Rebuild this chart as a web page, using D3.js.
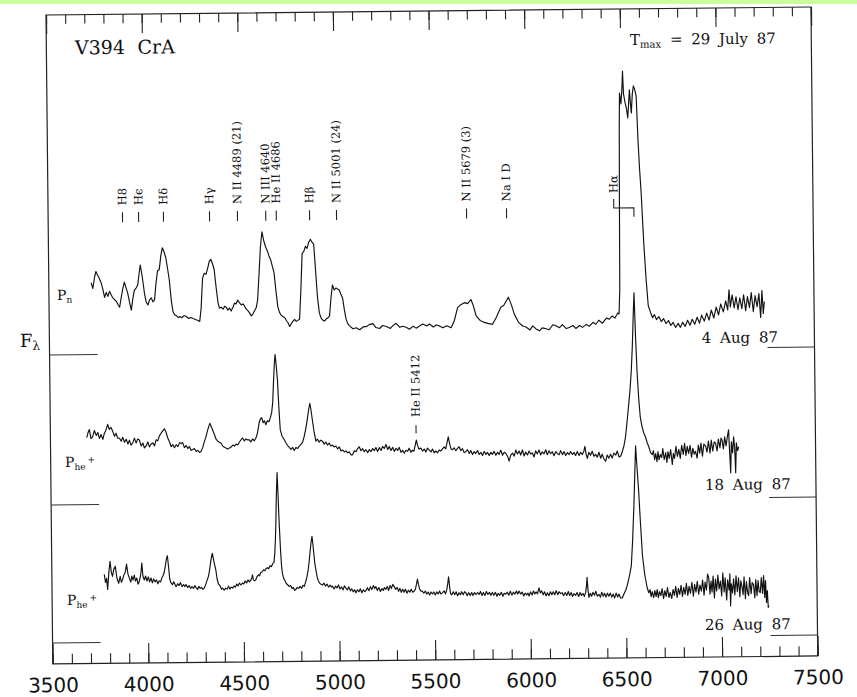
<!DOCTYPE html>
<html>
<head>
<meta charset="utf-8">
<script src="https://cdn.jsdelivr.net/npm/d3@7"></script>
<style>
  body { margin: 0; background: #fff; }
  svg text { fill: #111; }
</style>
</head>
<body>
<div id="vis"></div>
<script>
// Constants
const FRAME_WIDTH = 857;
const FRAME_HEIGHT = 697;
// the scanned plot box is tilted a little
const PLOT = { left: 46, top: 15, width: 765, height: 649, tilt: -0.6 };

// wavelength axis (Angstrom)
const waveDomain = [3500, 7500];
const waveTicks = [3500, 4000, 4500, 5000, 5500, 6000, 6500, 7000, 7500];

// spectra: [wavelength, flux above its own zero level]
const dates = ["4 Aug 87", "18 Aug 87", "26 Aug 87"];
const phases = ["n", "he", "he"];
const offsets = [3.09, 1.59, 0.21];

const aug04 = [[3721,0.72],[3730,0.66],[3740,0.78],[3747,0.83],[3754,0.80],[3762,0.77],[3773,0.72],[3781,0.66],[3791,0.57],[3800,0.62],[3808,0.58],[3817,0.63],[3824,0.60],[3832,0.57],[3842,0.55],[3852,0.53],[3860,0.50],[3869,0.47],[3878,0.57],[3887,0.66],[3895,0.72],[3904,0.66],[3912,0.61],[3921,0.52],[3930,0.44],[3938,0.55],[3947,0.64],[3956,0.66],[3965,0.69],[3972,0.80],[3979,0.89],[3985,0.82],[3991,0.74],[4000,0.60],[4008,0.52],[4017,0.49],[4026,0.54],[4035,0.56],[4043,0.52],[4052,0.54],[4060,0.70],[4069,0.83],[4078,0.84],[4087,0.98],[4095,1.06],[4104,1.02],[4113,0.96],[4121,0.86],[4130,0.74],[4140,0.52],[4148,0.42],[4156,0.39],[4166,0.38],[4175,0.36],[4182,0.37],[4195,0.36],[4205,0.38],[4217,0.37],[4230,0.35],[4240,0.36],[4252,0.35],[4265,0.34],[4278,0.33],[4287,0.32],[4295,0.45],[4304,0.75],[4313,0.80],[4322,0.79],[4330,0.84],[4340,0.92],[4348,0.94],[4356,0.90],[4365,0.84],[4375,0.65],[4384,0.50],[4391,0.45],[4400,0.46],[4410,0.44],[4418,0.47],[4426,0.46],[4435,0.43],[4443,0.45],[4452,0.42],[4462,0.46],[4470,0.50],[4478,0.49],[4487,0.53],[4496,0.50],[4505,0.48],[4514,0.49],[4522,0.47],[4530,0.44],[4540,0.42],[4548,0.40],[4557,0.37],[4566,0.39],[4574,0.42],[4583,0.45],[4591,0.53],[4600,0.80],[4608,1.05],[4617,1.21],[4626,1.12],[4635,1.06],[4644,1.02],[4652,0.97],[4661,0.93],[4670,0.86],[4678,0.80],[4687,0.62],[4696,0.46],[4705,0.40],[4714,0.37],[4722,0.36],[4731,0.35],[4740,0.32],[4748,0.30],[4757,0.26],[4766,0.29],[4774,0.31],[4783,0.33],[4792,0.31],[4800,0.32],[4809,0.33],[4817,0.60],[4826,0.99],[4835,1.01],[4844,1.06],[4852,1.04],[4861,1.10],[4870,1.13],[4878,1.10],[4887,1.08],[4896,0.80],[4904,0.55],[4913,0.39],[4922,0.34],[4930,0.32],[4939,0.31],[4948,0.33],[4956,0.34],[4966,0.36],[4975,0.55],[4983,0.67],[4992,0.62],[5001,0.64],[5009,0.63],[5018,0.62],[5026,0.58],[5035,0.54],[5044,0.42],[5052,0.33],[5061,0.28],[5070,0.26],[5088,0.23],[5105,0.24],[5123,0.22],[5143,0.25],[5157,0.25],[5173,0.27],[5192,0.28],[5208,0.24],[5227,0.23],[5243,0.26],[5262,0.25],[5283,0.23],[5298,0.26],[5314,0.28],[5333,0.24],[5348,0.25],[5366,0.24],[5383,0.22],[5403,0.25],[5418,0.23],[5436,0.25],[5453,0.27],[5473,0.25],[5488,0.27],[5508,0.24],[5523,0.26],[5540,0.25],[5558,0.23],[5578,0.25],[5601,0.23],[5618,0.30],[5636,0.43],[5653,0.46],[5671,0.48],[5688,0.47],[5706,0.51],[5718,0.45],[5732,0.35],[5753,0.30],[5775,0.28],[5793,0.27],[5818,0.26],[5838,0.33],[5862,0.43],[5878,0.45],[5893,0.50],[5902,0.53],[5918,0.45],[5932,0.36],[5953,0.28],[5975,0.24],[5993,0.23],[6013,0.20],[6028,0.24],[6045,0.21],[6063,0.19],[6078,0.22],[6098,0.21],[6114,0.20],[6133,0.25],[6149,0.24],[6168,0.22],[6183,0.25],[6203,0.21],[6219,0.22],[6238,0.24],[6253,0.21],[6273,0.24],[6288,0.22],[6308,0.25],[6323,0.23],[6343,0.27],[6358,0.25],[6373,0.29],[6393,0.26],[6413,0.31],[6428,0.30],[6443,0.33],[6458,0.31],[6473,0.36],[6480,0.35],[6485,0.60],[6488,1.50],[6491,2.20],[6494,2.56],[6501,2.45],[6507,2.60],[6511,2.78],[6515,2.55],[6523,2.46],[6530,2.40],[6536,2.31],[6541,2.45],[6546,2.59],[6551,2.45],[6555,2.36],[6561,2.55],[6567,2.63],[6573,2.60],[6581,2.53],[6588,2.10],[6595,1.80],[6602,1.56],[6613,1.05],[6623,0.70],[6633,0.43],[6645,0.36],[6655,0.31],[6665,0.34],[6675,0.29],[6688,0.32],[6700,0.27],[6712,0.30],[6725,0.25],[6738,0.28],[6750,0.23],[6762,0.26],[6775,0.21],[6788,0.25],[6800,0.21],[6812,0.26],[6825,0.22],[6838,0.28],[6850,0.23],[6862,0.29],[6875,0.24],[6888,0.31],[6900,0.25],[6912,0.33],[6925,0.27],[6938,0.35],[6950,0.28],[6962,0.38],[6975,0.30],[6988,0.41],[7000,0.33],[7012,0.44],[7025,0.36],[7038,0.47],[7048,0.38],[7056,0.58],[7062,0.41],[7072,0.53],[7082,0.40],[7092,0.51],[7102,0.38],[7112,0.50],[7122,0.39],[7132,0.53],[7142,0.37],[7152,0.51],[7162,0.40],[7172,0.55],[7182,0.36],[7192,0.52],[7202,0.41],[7212,0.54],[7220,0.30],[7228,0.57],[7234,0.34],[7240,0.46]];

const aug18 = [[3690,0.67],[3697,0.72],[3704,0.75],[3712,0.66],[3721,0.68],[3730,0.74],[3740,0.69],[3748,0.72],[3756,0.66],[3765,0.70],[3774,0.65],[3782,0.71],[3790,0.74],[3800,0.80],[3808,0.75],[3817,0.77],[3826,0.73],[3835,0.68],[3843,0.71],[3852,0.66],[3861,0.66],[3870,0.63],[3878,0.67],[3887,0.62],[3896,0.65],[3905,0.60],[3913,0.64],[3921,0.59],[3930,0.61],[3939,0.66],[3948,0.61],[3956,0.65],[3965,0.64],[3974,0.58],[3983,0.61],[3991,0.56],[4000,0.58],[4009,0.62],[4017,0.57],[4026,0.60],[4035,0.61],[4044,0.58],[4052,0.64],[4061,0.63],[4070,0.68],[4080,0.71],[4088,0.73],[4096,0.75],[4104,0.72],[4113,0.66],[4122,0.62],[4131,0.57],[4140,0.59],[4148,0.56],[4157,0.59],[4166,0.57],[4175,0.61],[4183,0.60],[4191,0.61],[4200,0.56],[4209,0.58],[4218,0.55],[4226,0.57],[4235,0.53],[4244,0.54],[4252,0.55],[4261,0.52],[4270,0.53],[4279,0.51],[4287,0.52],[4296,0.56],[4305,0.62],[4314,0.67],[4322,0.73],[4334,0.80],[4345,0.75],[4357,0.69],[4366,0.64],[4375,0.62],[4383,0.61],[4392,0.60],[4401,0.57],[4410,0.56],[4418,0.55],[4427,0.54],[4435,0.55],[4444,0.56],[4453,0.58],[4462,0.57],[4470,0.59],[4479,0.58],[4488,0.61],[4496,0.63],[4505,0.65],[4514,0.62],[4522,0.64],[4531,0.63],[4540,0.63],[4548,0.61],[4557,0.64],[4566,0.62],[4575,0.65],[4583,0.70],[4592,0.80],[4599,0.84],[4606,0.85],[4613,0.80],[4620,0.82],[4627,0.78],[4635,0.82],[4644,0.81],[4651,0.85],[4658,0.90],[4664,1.00],[4670,1.23],[4675,1.40],[4679,1.48],[4684,1.38],[4690,1.23],[4696,0.95],[4702,0.73],[4712,0.66],[4722,0.63],[4730,0.60],[4740,0.57],[4748,0.55],[4757,0.53],[4766,0.55],[4774,0.52],[4783,0.55],[4792,0.54],[4800,0.56],[4809,0.58],[4818,0.60],[4827,0.66],[4836,0.74],[4844,0.83],[4851,0.92],[4858,0.99],[4864,0.92],[4870,0.83],[4879,0.70],[4888,0.61],[4896,0.63],[4905,0.60],[4913,0.62],[4922,0.61],[4931,0.58],[4940,0.60],[4948,0.57],[4957,0.59],[4966,0.56],[4975,0.57],[4983,0.55],[4992,0.56],[5001,0.53],[5010,0.55],[5018,0.51],[5027,0.52],[5036,0.50],[5044,0.51],[5053,0.49],[5062,0.50],[5070,0.47],[5079,0.47],[5088,0.51],[5097,0.50],[5105,0.53],[5114,0.55],[5123,0.51],[5132,0.53],[5140,0.50],[5149,0.52],[5158,0.49],[5166,0.52],[5175,0.50],[5184,0.53],[5193,0.51],[5201,0.54],[5210,0.50],[5219,0.54],[5228,0.51],[5236,0.55],[5245,0.53],[5254,0.57],[5263,0.52],[5271,0.55],[5280,0.51],[5289,0.54],[5297,0.50],[5306,0.53],[5315,0.51],[5323,0.54],[5332,0.49],[5341,0.51],[5349,0.48],[5358,0.51],[5367,0.50],[5375,0.53],[5384,0.49],[5392,0.51],[5400,0.50],[5407,0.56],[5413,0.61],[5419,0.56],[5426,0.52],[5436,0.53],[5445,0.50],[5454,0.52],[5462,0.49],[5471,0.53],[5480,0.51],[5489,0.49],[5497,0.52],[5506,0.48],[5514,0.50],[5523,0.48],[5532,0.51],[5541,0.50],[5549,0.52],[5558,0.54],[5566,0.52],[5573,0.58],[5580,0.64],[5587,0.57],[5594,0.52],[5601,0.51],[5610,0.53],[5619,0.50],[5627,0.52],[5636,0.54],[5645,0.50],[5654,0.52],[5662,0.48],[5671,0.49],[5680,0.51],[5689,0.47],[5697,0.50],[5706,0.46],[5715,0.49],[5723,0.47],[5732,0.50],[5741,0.46],[5750,0.48],[5758,0.45],[5767,0.49],[5776,0.46],[5784,0.48],[5793,0.45],[5802,0.48],[5810,0.46],[5819,0.49],[5828,0.45],[5837,0.48],[5845,0.46],[5854,0.50],[5863,0.45],[5872,0.48],[5880,0.47],[5889,0.44],[5897,0.39],[5906,0.45],[5915,0.47],[5924,0.44],[5932,0.50],[5941,0.46],[5950,0.49],[5958,0.45],[5967,0.50],[5976,0.44],[5984,0.48],[5993,0.45],[6002,0.49],[6010,0.46],[6019,0.47],[6028,0.43],[6036,0.49],[6045,0.46],[6054,0.50],[6062,0.45],[6071,0.48],[6080,0.46],[6089,0.50],[6097,0.45],[6106,0.49],[6115,0.46],[6123,0.48],[6132,0.44],[6141,0.48],[6150,0.46],[6159,0.45],[6167,0.49],[6176,0.45],[6185,0.48],[6193,0.44],[6202,0.47],[6211,0.45],[6219,0.48],[6228,0.45],[6237,0.47],[6245,0.44],[6254,0.48],[6263,0.44],[6271,0.47],[6280,0.45],[6288,0.48],[6294,0.53],[6300,0.45],[6306,0.41],[6314,0.47],[6323,0.44],[6332,0.48],[6341,0.43],[6350,0.45],[6358,0.42],[6367,0.47],[6376,0.41],[6384,0.45],[6393,0.40],[6402,0.38],[6410,0.44],[6419,0.41],[6428,0.45],[6436,0.41],[6445,0.46],[6455,0.44],[6463,0.48],[6472,0.42],[6481,0.43],[6490,0.48],[6498,0.53],[6507,0.62],[6515,0.76],[6524,0.92],[6533,1.09],[6541,1.29],[6548,1.55],[6554,1.85],[6559,2.06],[6565,1.60],[6571,1.26],[6578,1.00],[6585,0.82],[6593,0.73],[6602,0.66],[6611,0.62],[6620,0.56],[6628,0.52],[6637,0.46],[6646,0.44],[6652,0.48],[6658,0.39],[6664,0.45],[6670,0.37],[6676,0.47],[6681,0.39],[6688,0.44],[6695,0.41],[6701,0.50],[6708,0.39],[6716,0.46],[6722,0.36],[6728,0.47],[6734,0.40],[6742,0.49],[6750,0.34],[6756,0.45],[6762,0.40],[6770,0.52],[6777,0.42],[6785,0.49],[6792,0.40],[6800,0.53],[6808,0.44],[6815,0.55],[6822,0.43],[6829,0.52],[6836,0.45],[6844,0.53],[6851,0.41],[6858,0.50],[6865,0.44],[6872,0.47],[6880,0.40],[6887,0.53],[6894,0.45],[6901,0.55],[6908,0.42],[6916,0.54],[6925,0.52],[6932,0.46],[6940,0.57],[6948,0.45],[6955,0.58],[6962,0.47],[6970,0.56],[6977,0.55],[6985,0.47],[6992,0.59],[7000,0.50],[7006,0.60],[7011,0.58],[7018,0.49],[7025,0.61],[7032,0.52],[7040,0.62],[7046,0.68],[7050,0.48],[7055,0.25],[7060,0.56],[7066,0.45],[7072,0.61],[7077,0.50],[7081,0.25],[7086,0.55],[7092,0.47],[7098,0.51]];

const aug26 = [[3774,0.68],[3780,0.60],[3786,0.64],[3791,0.53],[3798,0.70],[3805,0.81],[3811,0.70],[3817,0.66],[3824,0.73],[3832,0.76],[3840,0.64],[3849,0.59],[3857,0.66],[3863,0.60],[3870,0.63],[3878,0.68],[3884,0.70],[3891,0.78],[3898,0.68],[3905,0.64],[3912,0.60],[3918,0.66],[3924,0.62],[3931,0.67],[3937,0.61],[3944,0.64],[3950,0.58],[3954,0.59],[3962,0.65],[3967,0.71],[3971,0.79],[3976,0.66],[3983,0.62],[3990,0.66],[3997,0.61],[4004,0.65],[4011,0.60],[4018,0.64],[4025,0.59],[4032,0.63],[4040,0.60],[4047,0.62],[4054,0.58],[4061,0.61],[4068,0.60],[4075,0.64],[4081,0.66],[4087,0.69],[4094,0.76],[4100,0.83],[4105,0.86],[4111,0.74],[4116,0.63],[4122,0.59],[4130,0.57],[4137,0.60],[4144,0.57],[4149,0.55],[4157,0.58],[4164,0.56],[4172,0.59],[4180,0.55],[4188,0.57],[4194,0.55],[4201,0.57],[4209,0.54],[4217,0.56],[4225,0.53],[4232,0.55],[4240,0.53],[4247,0.56],[4253,0.54],[4261,0.52],[4268,0.55],[4275,0.53],[4282,0.54],[4289,0.52],[4296,0.53],[4304,0.57],[4311,0.61],[4317,0.64],[4322,0.68],[4330,0.78],[4335,0.84],[4340,0.88],[4346,0.82],[4351,0.77],[4357,0.72],[4364,0.62],[4371,0.57],[4380,0.55],[4386,0.52],[4392,0.53],[4400,0.51],[4408,0.53],[4416,0.52],[4423,0.55],[4430,0.52],[4437,0.54],[4444,0.53],[4452,0.55],[4459,0.54],[4466,0.57],[4473,0.55],[4480,0.58],[4488,0.56],[4496,0.58],[4503,0.57],[4510,0.60],[4518,0.58],[4525,0.61],[4533,0.59],[4540,0.61],[4545,0.63],[4549,0.66],[4553,0.61],[4560,0.60],[4566,0.61],[4572,0.64],[4580,0.66],[4586,0.65],[4592,0.68],[4600,0.69],[4607,0.71],[4614,0.70],[4620,0.72],[4627,0.73],[4634,0.72],[4641,0.75],[4648,0.74],[4655,0.77],[4662,0.78],[4667,0.88],[4671,1.02],[4674,1.18],[4678,1.45],[4683,1.68],[4687,1.45],[4690,1.25],[4692,1.14],[4697,0.90],[4701,0.76],[4705,0.68],[4712,0.62],[4718,0.60],[4725,0.57],[4731,0.56],[4740,0.54],[4748,0.55],[4755,0.52],[4762,0.53],[4769,0.50],[4775,0.51],[4782,0.53],[4790,0.52],[4797,0.54],[4805,0.52],[4812,0.55],[4819,0.54],[4826,0.58],[4833,0.63],[4840,0.70],[4845,0.77],[4851,0.88],[4857,0.98],[4862,1.04],[4867,0.95],[4872,0.84],[4876,0.76],[4880,0.71],[4887,0.63],[4894,0.59],[4900,0.57],[4906,0.56],[4914,0.55],[4922,0.57],[4930,0.54],[4938,0.56],[4946,0.53],[4954,0.55],[4961,0.53],[4966,0.54],[4975,0.51],[4983,0.54],[4990,0.52],[4998,0.55],[5006,0.51],[5014,0.53],[5022,0.50],[5029,0.54],[5036,0.52],[5044,0.50],[5052,0.53],[5060,0.49],[5067,0.51],[5075,0.48],[5082,0.50],[5089,0.47],[5097,0.50],[5105,0.48],[5112,0.51],[5120,0.47],[5128,0.50],[5135,0.48],[5141,0.49],[5149,0.52],[5157,0.49],[5165,0.53],[5172,0.50],[5180,0.54],[5187,0.51],[5193,0.53],[5201,0.49],[5209,0.52],[5217,0.48],[5225,0.51],[5232,0.49],[5238,0.52],[5245,0.50],[5253,0.53],[5260,0.49],[5268,0.54],[5275,0.51],[5282,0.55],[5289,0.53],[5297,0.50],[5305,0.52],[5312,0.48],[5319,0.51],[5326,0.47],[5334,0.50],[5341,0.47],[5348,0.50],[5356,0.46],[5363,0.49],[5371,0.47],[5378,0.50],[5386,0.47],[5393,0.48],[5400,0.50],[5406,0.55],[5411,0.60],[5416,0.55],[5422,0.50],[5429,0.48],[5436,0.48],[5444,0.46],[5452,0.48],[5459,0.45],[5467,0.47],[5474,0.44],[5482,0.47],[5489,0.45],[5496,0.47],[5504,0.44],[5511,0.47],[5519,0.45],[5526,0.48],[5533,0.45],[5541,0.46],[5550,0.48],[5557,0.45],[5564,0.49],[5570,0.56],[5574,0.62],[5579,0.52],[5584,0.45],[5590,0.44],[5598,0.47],[5605,0.44],[5613,0.47],[5620,0.43],[5628,0.46],[5635,0.44],[5642,0.47],[5650,0.44],[5657,0.47],[5663,0.46],[5671,0.43],[5678,0.46],[5686,0.43],[5694,0.46],[5701,0.43],[5709,0.46],[5717,0.44],[5725,0.46],[5733,0.44],[5740,0.47],[5748,0.43],[5755,0.46],[5763,0.43],[5771,0.47],[5779,0.44],[5787,0.46],[5795,0.43],[5802,0.46],[5810,0.43],[5818,0.46],[5826,0.42],[5833,0.45],[5841,0.43],[5849,0.46],[5857,0.42],[5864,0.45],[5872,0.44],[5880,0.46],[5888,0.43],[5896,0.47],[5904,0.43],[5912,0.46],[5920,0.44],[5928,0.47],[5935,0.44],[5942,0.47],[5950,0.44],[5958,0.46],[5966,0.42],[5974,0.45],[5982,0.43],[5988,0.45],[5994,0.42],[6002,0.46],[6010,0.43],[6017,0.47],[6024,0.44],[6031,0.46],[6038,0.44],[6046,0.50],[6053,0.45],[6060,0.47],[6068,0.43],[6075,0.46],[6083,0.42],[6090,0.45],[6098,0.42],[6106,0.46],[6113,0.43],[6121,0.46],[6128,0.43],[6136,0.47],[6144,0.43],[6151,0.46],[6159,0.44],[6167,0.45],[6175,0.42],[6183,0.45],[6191,0.42],[6199,0.46],[6206,0.42],[6214,0.45],[6221,0.41],[6229,0.44],[6237,0.42],[6245,0.45],[6253,0.41],[6261,0.45],[6268,0.42],[6276,0.44],[6283,0.41],[6290,0.45],[6295,0.52],[6298,0.60],[6302,0.48],[6307,0.40],[6314,0.44],[6321,0.41],[6328,0.45],[6336,0.42],[6343,0.46],[6351,0.41],[6359,0.43],[6367,0.40],[6374,0.45],[6382,0.41],[6389,0.44],[6396,0.40],[6404,0.44],[6411,0.41],[6419,0.44],[6426,0.40],[6434,0.43],[6441,0.39],[6449,0.44],[6457,0.40],[6464,0.43],[6472,0.39],[6481,0.39],[6490,0.43],[6500,0.47],[6507,0.51],[6515,0.57],[6522,0.63],[6530,0.71],[6538,0.95],[6543,1.15],[6547,1.31],[6553,1.62],[6559,1.91],[6565,1.70],[6572,1.48],[6580,1.15],[6589,0.81],[6600,0.62],[6612,0.49],[6620,0.44],[6627,0.47],[6632,0.40],[6638,0.45],[6645,0.39],[6652,0.46],[6658,0.40],[6664,0.47],[6670,0.39],[6676,0.45],[6683,0.41],[6690,0.48],[6697,0.38],[6704,0.46],[6711,0.40],[6718,0.49],[6725,0.39],[6732,0.44],[6740,0.38],[6747,0.47],[6754,0.41],[6761,0.50],[6768,0.39],[6775,0.48],[6782,0.42],[6789,0.51],[6796,0.40],[6803,0.49],[6810,0.42],[6817,0.53],[6824,0.41],[6831,0.50],[6838,0.43],[6846,0.54],[6853,0.40],[6860,0.52],[6867,0.44],[6874,0.55],[6881,0.42],[6888,0.51],[6895,0.45],[6902,0.56],[6909,0.41],[6915,0.54],[6922,0.46],[6928,0.62],[6934,0.59],[6940,0.42],[6946,0.55],[6951,0.44],[6957,0.60],[6963,0.38],[6969,0.57],[6975,0.45],[6982,0.61],[6988,0.47],[6995,0.55],[7001,0.40],[7008,0.63],[7014,0.44],[7020,0.58],[7027,0.36],[7033,0.56],[7040,0.46],[7045,0.62],[7047,0.30],[7052,0.52],[7058,0.43],[7064,0.57],[7070,0.41],[7077,0.60],[7083,0.44],[7090,0.58],[7096,0.39],[7102,0.55],[7107,0.50],[7113,0.41],[7119,0.59],[7125,0.37],[7131,0.54],[7137,0.43],[7142,0.40],[7148,0.58],[7155,0.42],[7161,0.53],[7168,0.51],[7174,0.38],[7180,0.56],[7186,0.40],[7192,0.55],[7197,0.44],[7203,0.43],[7209,0.58],[7215,0.42],[7221,0.60],[7226,0.38],[7231,0.55],[7235,0.33],[7240,0.45],[7244,0.28],[7247,0.30]];

const spectra = [aug04, aug18, aug26];

// line identifications, placed where the marks stand in the figure
const lineNames = ["H8", "H\u03f5", "H\u03b4", "H\u03b3", "N II 4489 (21)", "N III 4640", "He II 4686", "H\u03b2", "N II 5001 (24)", "N II 5679 (3)", "Na I D"];
const lineWaves = [3889, 3973, 4103, 4344, 4490, 4638, 4693, 4867, 5008, 5688, 5897];

// Hα bracket and the He II line on the second spectrum
const halphaWaves = [6458, 6563];
const heIIWave = 5412;

// Scales
const X_SCALE = d3.scaleLinear().domain(waveDomain).range([0, PLOT.width]);
const Y_SCALE = d3.scaleLinear().domain([0, 6.49]).range([PLOT.height, 0]);

const svg = d3.select("#vis")
    .append("svg")
    .attr("width", FRAME_WIDTH)
    .attr("height", FRAME_HEIGHT);

// green strip on the top of the page
svg.append("rect")
    .attr("x", 0).attr("y", 0)
    .attr("width", FRAME_WIDTH).attr("height", 4)
    .attr("fill", "#ccff99");

const plot = svg.append("g")
    .attr("transform", "translate(" + PLOT.left + "," + PLOT.top + ") rotate(" + PLOT.tilt + ")");

// frame
plot.append("rect")
    .attr("width", PLOT.width)
    .attr("height", PLOT.height)
    .attr("fill", "none")
    .attr("stroke", "#222")
    .attr("stroke-width", 1.2);

// bottom axis: minor ticks, then major ticks with labels
plot.append("g")
    .attr("transform", "translate(0," + PLOT.height + ")")
    .call(d3.axisBottom(X_SCALE).tickValues(X_SCALE.ticks(40)).tickSize(-10).tickFormat(""))
    .call(g => g.select(".domain").remove());
plot.append("g")
    .attr("transform", "translate(0," + PLOT.height + ")")
    .call(d3.axisBottom(X_SCALE).tickValues(waveTicks).tickSize(-20).tickPadding(14).tickFormat(d3.format("d")))
    .call(g => g.select(".domain").remove())
    .attr("font-family", "'DejaVu Sans', sans-serif")
    .attr("font-size", 20);

// top axis, ticks pointing down
plot.append("g")
    .call(d3.axisTop(X_SCALE).tickValues(X_SCALE.ticks(40)).tickSize(-9).tickFormat(""))
    .call(g => g.select(".domain").remove());
plot.append("g")
    .call(d3.axisTop(X_SCALE).tickValues(waveTicks).tickSize(-19).tickFormat(""))
    .call(g => g.select(".domain").remove());

plot.selectAll(".tick line").attr("stroke", "#222").attr("stroke-width", 1.1);
plot.selectAll(".tick text").attr("fill", "#111");

// zero levels on both sides
plot.selectAll(".zeroLeft")
    .data(offsets)
    .enter()
    .append("line")
    .attr("x1", 0).attr("x2", 48)
    .attr("y1", d => Y_SCALE(d)).attr("y2", d => Y_SCALE(d))
    .attr("stroke", "#333").attr("stroke-width", 1.1);
plot.selectAll(".zeroRight")
    .data(offsets)
    .enter()
    .append("line")
    .attr("x1", PLOT.width - 47).attr("x2", PLOT.width)
    .attr("y1", d => Y_SCALE(d)).attr("y2", d => Y_SCALE(d))
    .attr("stroke", "#333").attr("stroke-width", 1.1);

// spectra
spectra.forEach((spec, i) => {
    const line = d3.line()
        .x(d => X_SCALE(d[0]))
        .y(d => Y_SCALE(d[1] + offsets[i]));
    plot.append("path")
        .datum(spec)
        .attr("d", line)
        .attr("fill", "none")
        .attr("stroke", "#111")
        .attr("stroke-width", 1.15)
        .attr("stroke-linejoin", "round");
});

const serif = "'DejaVu Serif', serif";

// line marks: short dash and rotated name
plot.selectAll(".lineDash")
    .data(lineWaves)
    .enter()
    .append("line")
    .attr("x1", d => X_SCALE(d)).attr("x2", d => X_SCALE(d))
    .attr("y1", 198).attr("y2", 208)
    .attr("stroke", "#222").attr("stroke-width", 1.1);
plot.selectAll(".lineName")
    .data(lineNames)
    .enter()
    .append("text")
    .attr("transform", (d, i) => "translate(" + X_SCALE(lineWaves[i]) + ",191) rotate(-90)")
    .attr("dy", "0.34em")
    .attr("font-family", serif)
    .attr("font-size", 11.5)
    .text(d => d);

// H alpha bracket
plot.append("path")
    .attr("d", "M" + X_SCALE(halphaWaves[0]) + ",190V199H" + X_SCALE(halphaWaves[1]) + "V208")
    .attr("fill", "none")
    .attr("stroke", "#222").attr("stroke-width", 1.1);
plot.append("text")
    .attr("transform", "translate(" + X_SCALE(halphaWaves[0]) + ",184) rotate(-90)")
    .attr("dy", "0.34em")
    .attr("font-family", serif)
    .attr("font-size", 11.5)
    .text("H\u03b1");

// He II 5412 on the 18 Aug spectrum
plot.append("line")
    .attr("x1", X_SCALE(heIIWave)).attr("x2", X_SCALE(heIIWave))
    .attr("y1", 414).attr("y2", 422)
    .attr("stroke", "#222").attr("stroke-width", 1.1);
plot.append("text")
    .attr("transform", "translate(" + X_SCALE(heIIWave) + ",406) rotate(-90)")
    .attr("dy", "0.34em")
    .attr("font-family", serif)
    .attr("font-size", 11.5)
    .text("He II " + heIIWave);

// titles
plot.append("text")
    .attr("x", 28.6).attr("y", 39.6)
    .attr("font-family", serif)
    .attr("font-size", 19)
    .attr("word-spacing", 6.5)
    .text("V394 CrA");

const tmax = plot.append("text")
    .attr("x", 583.7).attr("y", 36.1)
    .attr("font-family", serif)
    .attr("font-size", 15)
    .attr("word-spacing", 4);
tmax.append("tspan").text("T");
tmax.append("tspan").attr("font-size", 10).attr("dy", 3).text("max");
tmax.append("tspan").attr("dy", -3).text(" = 29 July 87");

// dates of the spectra
const datePos = [[652.3, 334.9], [654, 481.9], [652.5, 621.9]];
plot.selectAll(".date")
    .data(dates)
    .enter()
    .append("text")
    .attr("x", (d, i) => datePos[i][0])
    .attr("y", (d, i) => datePos[i][1])
    .attr("font-family", serif)
    .attr("font-size", 15)
    .attr("word-spacing", 4)
    .text(d => d);

// phase labels
const phasePos = [[8, 285], [14.3, 452.2], [14.8, 590.2]];
phases.forEach((p, i) => {
    const t = plot.append("text")
        .attr("x", phasePos[i][0]).attr("y", phasePos[i][1])
        .attr("font-family", serif)
        .attr("font-size", 14);
    t.append("tspan").text("P");
    t.append("tspan").attr("font-size", 9).attr("dy", 3).text(p);
    if (p === "he") {
        t.append("tspan").attr("font-size", 9).attr("dx", 2).attr("dy", -7).text("+");
    }
});

// y label
const fl = plot.append("text")
    .attr("x", -29.5).attr("y", 331.7)
    .attr("font-family", serif)
    .attr("font-size", 18);
fl.append("tspan").text("F");
fl.append("tspan").attr("font-size", 12).attr("dy", 3).text("\u03bb");
</script>
</body>
</html>
